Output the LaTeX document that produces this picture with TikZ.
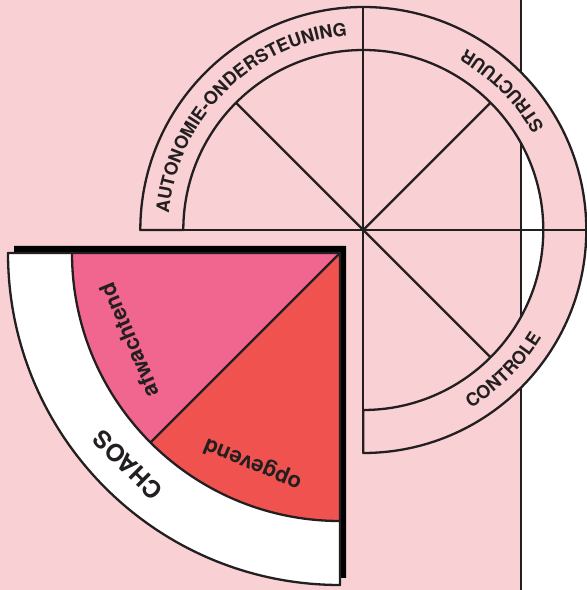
\documentclass[tikz,border=0pt]{standalone}
\usepackage{fontspec}
\setmainfont{TeX Gyre Heros}
\usepackage{tikz}
\usetikzlibrary{decorations.text}
\definecolor{bgpink}{HTML}{F9D0D3}
\definecolor{rosepink}{HTML}{F0668F}
\definecolor{coral}{HTML}{F0534F}
\definecolor{ink}{HTML}{231F20}

\begin{document}
\begin{tikzpicture}[x=1pt, y=1pt, line width=2.3pt, line join=round,
  ringtext/.style={decorate, decoration={text along path, text align=center,
    text color=ink, text={|\fontsize{18}{18}\selectfont\bfseries|#1}}},
  wedgetext/.style={font=\fontsize{22}{22}\selectfont\bfseries, text=ink, inner sep=0pt}]
  \useasboundingbox (0,0) rectangle (587,590);

  % background sheet
  \fill[bgpink] (0,0) rectangle (521,590);
  \draw[ink] (521,0) -- (521,590);

  % wheel
  \coordinate (C) at (363.3,360);
  \filldraw[fill=bgpink, draw=ink] ([shift={(180:223)}]C)
    arc[start angle=180, end angle=-90, radius=223] -- ([shift={(-90:180)}]C)
    arc[start angle=-90, end angle=180, radius=180] -- cycle;
  \draw[ink] ([shift={(180:223)}]C) -- ([shift={(0:223)}]C);
  \draw[ink] ([shift={(90:223)}]C) -- ([shift={(-90:223)}]C);
  \foreach \a in {45,135,-45}
    \draw[ink] (C) -- ++(\a:180);

  \path[ringtext=AUTONOMIE-ONDERSTEUNING] ([shift={(175:195)}]C)
    arc[start angle=175, end angle=95, radius=195];
  \path[ringtext=STRUCTUUR] ([shift={(5:208)}]C)
    arc[start angle=5, end angle=85, radius=208];
  \path[ringtext=CONTROLE] ([shift={(-85:208)}]C)
    arc[start angle=-85, end angle=-5, radius=208];

  % loose wedge
  \coordinate (W) at (340,337);
  \fill[black] ([shift={(6,7)}]W) -- ++(-332,0)
    arc[start angle=180, end angle=270, radius=332] -- cycle;
  \fill[white] (W) -- ++(-332,0) arc[start angle=180, end angle=270, radius=332] -- cycle;
  \fill[rosepink] (W) -- ++(-268,0) arc[start angle=180, end angle=225, radius=268] -- cycle;
  \fill[coral] (W) -- ++(225:268) arc[start angle=225, end angle=270, radius=268] -- cycle;
  \draw[ink] (W) -- ++(-332,0) arc[start angle=180, end angle=270, radius=332] -- cycle;
  \draw[ink] ([shift={(180:268)}]W) arc[start angle=180, end angle=270, radius=268];
  \draw[ink] (W) -- ++(225:268);

  \node[wedgetext, rotate=112.5] (afw) at ([shift={(202.5:228)}]W) {afwachtend};
  \node[wedgetext, rotate=157.5] (opg) at ([shift={(247.5:228)}]W) {opgevend};
  \node[wedgetext, font=\fontsize{24}{24}\selectfont\bfseries, rotate=135] (chaos)
    at ([shift={(225:300)}]W) {CHAOS};
\end{tikzpicture}
\end{document}
